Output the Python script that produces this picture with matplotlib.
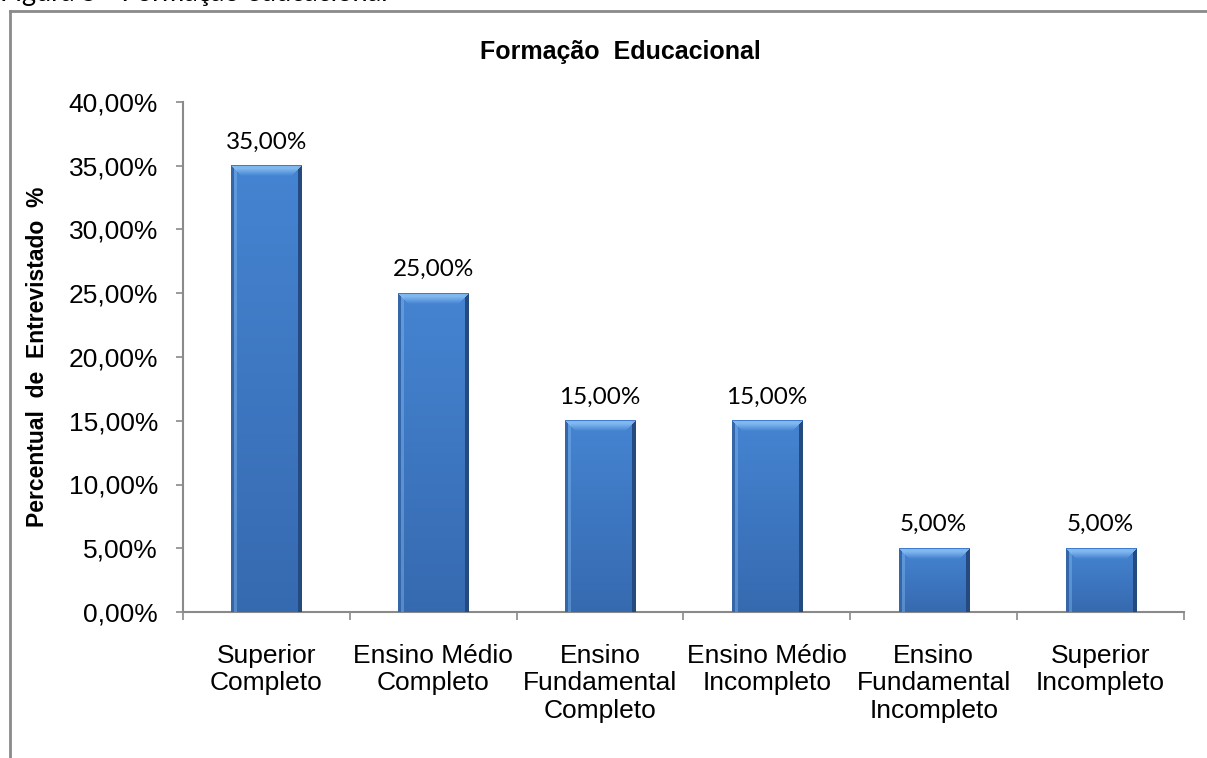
import numpy as np
import matplotlib
matplotlib.use("Agg")
import matplotlib.pyplot as plt
from matplotlib.ticker import FuncFormatter, FixedLocator
from matplotlib.lines import Line2D

categories = [
    "Superior\nCompleto",
    "Ensino Médio\nCompleto",
    "Ensino\nFundamental\nCompleto",
    "Ensino Médio\nIncompleto",
    "Ensino\nFundamental\nIncompleto",
    "Superior\nIncompleto",
]
values = [35.0, 25.0, 15.0, 15.0, 5.0, 5.0]
y_ticks = [0, 5, 10, 15, 20, 25, 30, 35, 40]

title = "Formação  Educacional"
y_label = "Percentual  de  Entrevistado  %"
caption = "Figura 5 - Formação educacional"


def pct(v, _pos=None):
    return f"{v:.2f}".replace(".", ",") + "%"


W, H = 1207, 758
fig = plt.figure(figsize=(W / 100, H / 100), dpi=100)
fig.patch.set_facecolor("white")

# frame of the chart area (only left and top edges fall inside the image)
grey = "#8a8a8a"
fig.add_artist(Line2D([10 / W, 10 / W], [0, 1 - 11 / H], color=grey, lw=2.0,
                      transform=fig.transFigure))
fig.add_artist(Line2D([10 / W, 1], [1 - 11 / H, 1 - 11 / H], color=grey, lw=2.0,
                      transform=fig.transFigure))

fig.text(0.0, 1 - 1 / H, caption, fontsize=19.5, family="Lato",
         ha="left", va="baseline", color="black")

ax = fig.add_axes([183 / W, 1 - 612 / H, 1001 / W, 510 / H])
x = np.arange(len(values))
ax.set_xlim(-0.5, len(values) - 0.5)
ax.set_ylim(0, 40)

bars = ax.bar(x, values, width=0.42, color="#3f7aca", zorder=2)

# bevelled gradient fill for each bar, rendered at device resolution
fig.canvas.draw()
body_top = np.array([0x45, 0x84, 0xd2]) / 255
body_bot = np.array([0x36, 0x6a, 0xb0]) / 255
left_col = np.array([0x35, 0x66, 0xa8]) / 255
right_col = np.array([0x24, 0x4a, 0x80]) / 255
bevel_col = np.array([0x86, 0xbd, 0xf2]) / 255
edge_top = np.array([0x40, 0x7c, 0xcc]) / 255
for b in bars:
    (px0, py0), (px1, py1) = ax.transData.transform(
        [(b.get_x(), 0), (b.get_x() + b.get_width(), b.get_height())])
    wpx = max(int(round(px1 - px0)), 2)
    hpx = max(int(round(py1 - py0)), 2)
    t = np.linspace(0, 1, hpx)[:, None]
    img = (1 - t)[..., None] * body_top + t[..., None] * body_bot
    img = np.repeat(img, wpx, axis=1)
    img[:, 3:6] = 0.6 * img[:, 3:6] + 0.4 * bevel_col
    img[:, :3] = left_col
    img[:, -4:] = right_col
    bev = 11
    for r in range(min(bev, hpx)):
        a, c = r, wpx - r
        if c > a:
            mix = 0.9 if r < 4 else max(0.9 - 0.12 * (r - 3), 0.0)
            img[r, a:c] = mix * bevel_col + (1 - mix) * img[r, a:c]
    img[0, :] = edge_top
    ax.imshow(img, extent=(b.get_x(), b.get_x() + b.get_width(), 0, b.get_height()),
              aspect="auto", interpolation="nearest", zorder=3)
    ax.annotate(pct(b.get_height()), (b.get_x() + b.get_width() / 2, b.get_height()),
                xytext=(0, 12.5), textcoords="offset points", ha="center",
                va="baseline", fontsize=17.5, family="Lato", color="black",
                zorder=4)

ax.set_xlim(-0.5, len(values) - 0.5)
ax.set_ylim(0, 40)
ax.set_aspect("auto")

for s in ["top", "right"]:
    ax.spines[s].set_visible(False)
for s in ["left", "bottom"]:
    ax.spines[s].set_color(grey)
    ax.spines[s].set_linewidth(1.5)

ax.yaxis.set_major_locator(FixedLocator(y_ticks))
ax.yaxis.set_major_formatter(FuncFormatter(pct))
ax.tick_params(axis="y", direction="out", length=5, width=1.2, color=grey,
               labelsize=19, pad=13)

ax.set_xticks(x)
ax.set_xticklabels(categories, linespacing=1.18)
ax.set_xticks(np.arange(-0.5, len(values)), minor=True)
ax.tick_params(axis="x", which="major", length=0, labelsize=19, pad=23)
ax.tick_params(axis="x", which="minor", direction="out", length=6, width=1.2,
               color=grey)

for lab in ax.get_xticklabels() + ax.get_yticklabels():
    lab.set_family("Liberation Sans")

ax.set_ylabel(y_label, fontsize=16.5, fontweight="bold", family="Liberation Sans",
              labelpad=14)
fig.text(620 / W, 1 - 52 / H, title, fontsize=18, fontweight="bold",
         family="Liberation Sans", ha="center", va="center")

fig.savefig("out.png", dpi=100, facecolor="white")
